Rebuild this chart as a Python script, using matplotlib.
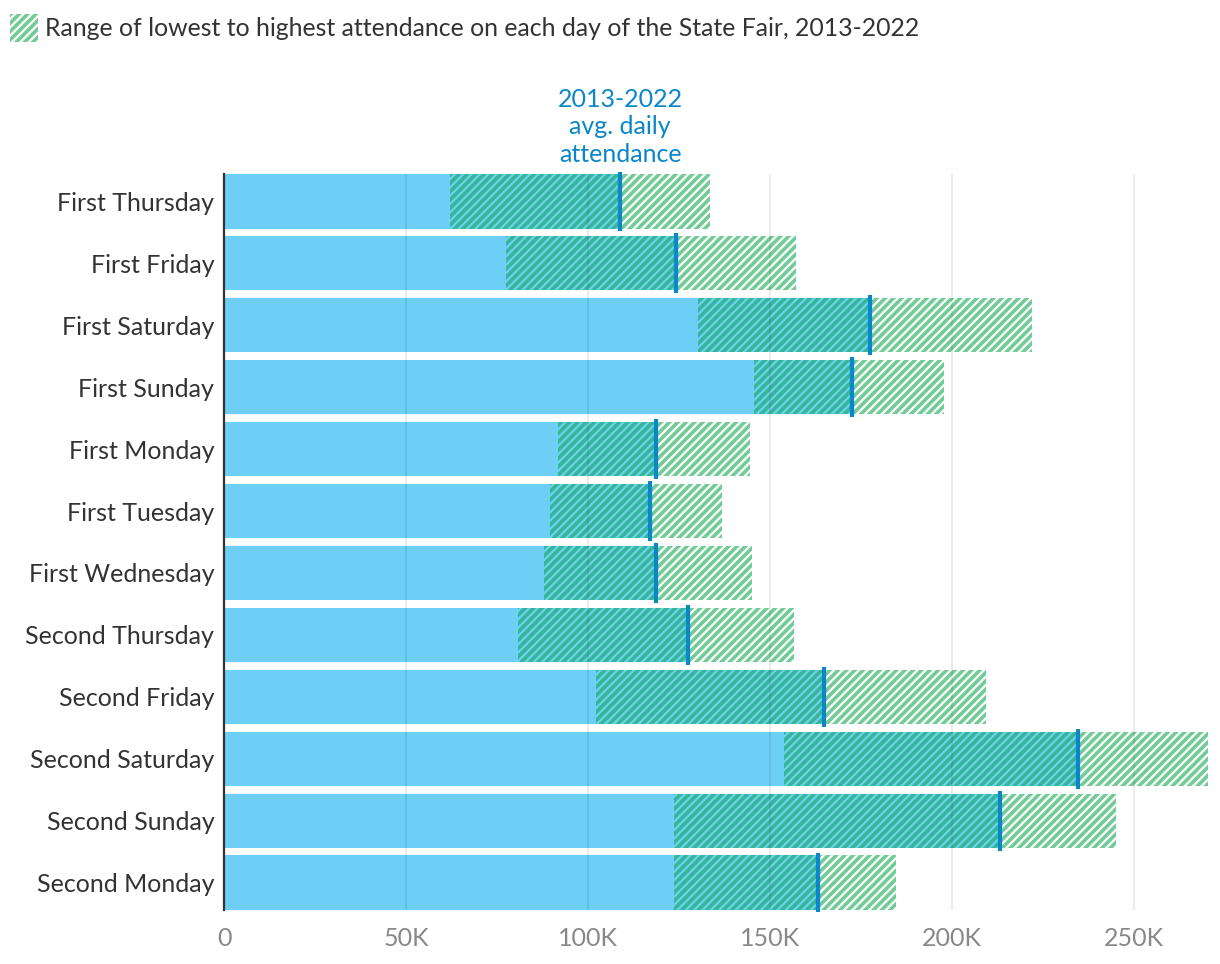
import numpy as np
import matplotlib
matplotlib.use("Agg")
import matplotlib.pyplot as plt
from matplotlib.patches import Rectangle

plt.rcParams['font.family'] = ['Lato', 'DejaVu Sans']
plt.rcParams['hatch.linewidth'] = 2.6

days = ["First Thursday", "First Friday", "First Saturday", "First Sunday",
        "First Monday", "First Tuesday", "First Wednesday", "Second Thursday",
        "Second Friday", "Second Saturday", "Second Sunday", "Second Monday"]
low = [62100, 77500, 130200, 145600, 91800, 89600, 87900, 80800,
       102200, 153800, 123600, 123600]
avg = [108800, 124200, 177500, 172500, 118700, 117000, 118700, 127500,
       164800, 234600, 213200, 163200]
high = [133500, 157100, 222000, 197800, 144500, 136800, 145000, 156600,
        209300, 270300, 245000, 184600]

ticks = [0, 50000, 100000, 150000, 200000, 250000]
tick_labels = ["0", "50K", "100K", "150K", "200K", "250K"]

blue = "#6dcff5"
line_blue = "#0a87c9"
hatch_green = (0.05, 0.655, 0.306, 0.58)

fig = plt.figure(figsize=(12.2, 9.64), dpi=100)
ax = fig.add_axes([224/1220, 1-910/964, (1208-224)/1220, (910-174)/964])

y = np.arange(len(days))
ax.barh(y, avg, height=0.88, color=blue, zorder=1)
ax.barh(y, np.array(high) - np.array(low), left=low, height=0.88,
        facecolor="none", edgecolor=hatch_green, hatch="////", linewidth=0, zorder=2)
ax.vlines(avg, y - 0.48, y + 0.48, color=line_blue, linewidth=3, zorder=4, clip_on=False)

ax.set_xlim(0, 270300)
ax.set_ylim(len(days) - 0.56, -0.44)
ax.set_xticks(ticks)
ax.set_xticklabels(tick_labels)
ax.set_yticks(y)
ax.set_yticklabels(days)
ax.tick_params(axis="x", length=0, labelsize=18, labelcolor="#888888", pad=12)
ax.tick_params(axis="y", length=0, labelsize=18, labelcolor="#333333", pad=7)
ax.grid(axis="x", color="black", alpha=0.08, linewidth=1.5, zorder=3)
ax.grid(axis="y", visible=False)
ax.set_axisbelow(False)
for s in ["top", "right", "bottom"]:
    ax.spines[s].set_visible(False)
ax.spines["left"].set_color("#333333")
ax.spines["left"].set_linewidth(1.6)
ax.spines["left"].set_zorder(5)

ax.annotate("2013-2022\navg. daily\nattendance", xy=(avg[0], 1.0),
            xycoords=("data", "axes fraction"), xytext=(0, 6),
            textcoords="offset points", ha="center", va="bottom",
            fontsize=18, color=line_blue, linespacing=1.22)

fig.add_artist(Rectangle((10/1220, 1-42/964), 28/1220, 28/964, transform=fig.transFigure,
                         facecolor="none", edgecolor=hatch_green, hatch="////", linewidth=0))
fig.text(45/1220, 1-28/964, "Range of lowest to highest attendance on each day of the State Fair, 2013-2022",
         fontsize=17.9, color="#333333", va="center", ha="left")

fig.savefig("out.png", dpi=100)
